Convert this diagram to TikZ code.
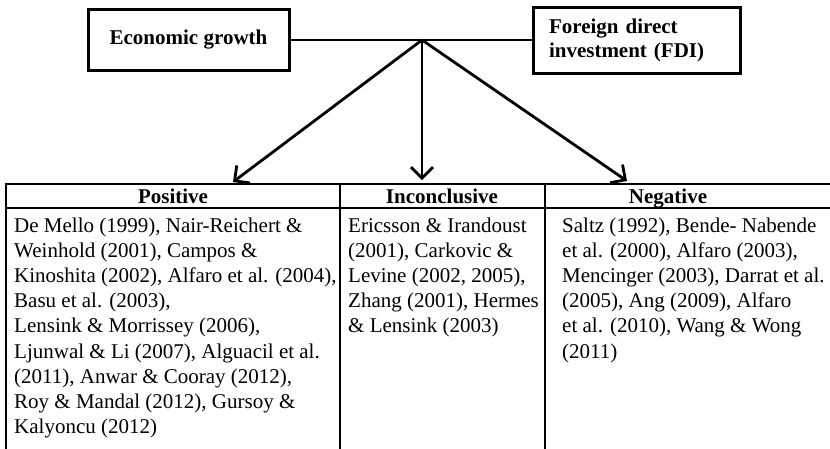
\documentclass[tikz,border=0pt]{standalone}
\usepackage{fontspec}
\setmainfont{Liberation Serif}
\usetikzlibrary{arrows.meta}
\begin{document}
\begin{tikzpicture}[x=1pt,y=-1pt,
  box/.style={draw, line width=3pt, inner sep=0pt},
  link/.style={line width=2.8pt},
  tbl/.style={line width=2.8pt},
  arr/.style={line width=2.8pt, -{Straight Barb[length=11pt,width=22pt,line width=2.8pt]}},
  body/.style={anchor=base west, align=left, inner sep=0pt, font=\fontsize{21}{25.2}\selectfont},
  head/.style={anchor=base, inner sep=0pt, font=\bfseries\fontsize{21}{24}\selectfont}]
\useasboundingbox (0,0) rectangle (830,448);
% top boxes
\node[box, minimum width=201pt, minimum height=61pt, font=\bfseries\fontsize{21}{24}\selectfont] (eg) at (188.5,40) {Economic growth};
\node[box, minimum width=207pt, minimum height=66pt, text width=175pt, inner xsep=16pt, align=left, font=\bfseries\fontsize{21}{24}\selectfont] (fdi) at (636.5,40) {Foreign direct\\investment (FDI)};
\draw[link] (eg.east) -- (fdi.west);
\coordinate (J) at (422,40);
% table frame
\coordinate (tl) at (6,184);
\coordinate (tr) at (832,184);
\coordinate (hl) at (6,208);
\coordinate (hr) at (832,208);
\coordinate (bl) at (6,450);
\coordinate (d1t) at (340,184);
\coordinate (d1b) at (340,450);
\coordinate (d2t) at (545,184);
\coordinate (d2b) at (545,450);
\draw[tbl] (bl) -- (tl) -- (tr);
\draw[tbl] (hl) -- (hr);
\draw[tbl] (d1t) -- (d1b);
\draw[tbl] (d2t) -- (d2b);
% arrow targets
\coordinate (tA) at (233,182);
\coordinate (tB) at (422,180);
\coordinate (tC) at (627,181);
\draw[arr] (J) -- (tA);
\draw[arr] (J) -- (tB);
\draw[arr] (J) -- (tC);
% headers
\node[head] (hpos) at (173,203) {Positive};
\node[head] (hinc) at (442,203) {Inconclusive};
\node[head] (hneg) at (668,203) {Negative};
% bodies (base anchor = baseline of last line)
\node[body] (bpos) at (14,433.6) {De Mello (1999), Nair-Reichert \&\\Weinhold (2001), Campos \&\\Kinoshita (2002), Alfaro et al. (2004),\\Basu et al. (2003),\\Lensink \& Morrissey (2006),\\Ljunwal \& Li (2007), Alguacil et al.\\(2011), Anwar \& Cooray (2012),\\Roy \& Mandal (2012), Gursoy \&\\Kalyoncu (2012)};
\node[body] (binc) at (348,332.8) {Ericsson \& Irandoust\\(2001), Carkovic \&\\Levine (2002, 2005),\\Zhang (2001), Hermes\\\& Lensink (2003)};
\node[body] (bneg) at (562,358) {Saltz (1992), Bende- Nabende\\et al. (2000), Alfaro (2003),\\Mencinger (2003), Darrat et al.\\(2005), Ang (2009), Alfaro\\et al. (2010), Wang \& Wong\\(2011)};
\end{tikzpicture}
\end{document}
